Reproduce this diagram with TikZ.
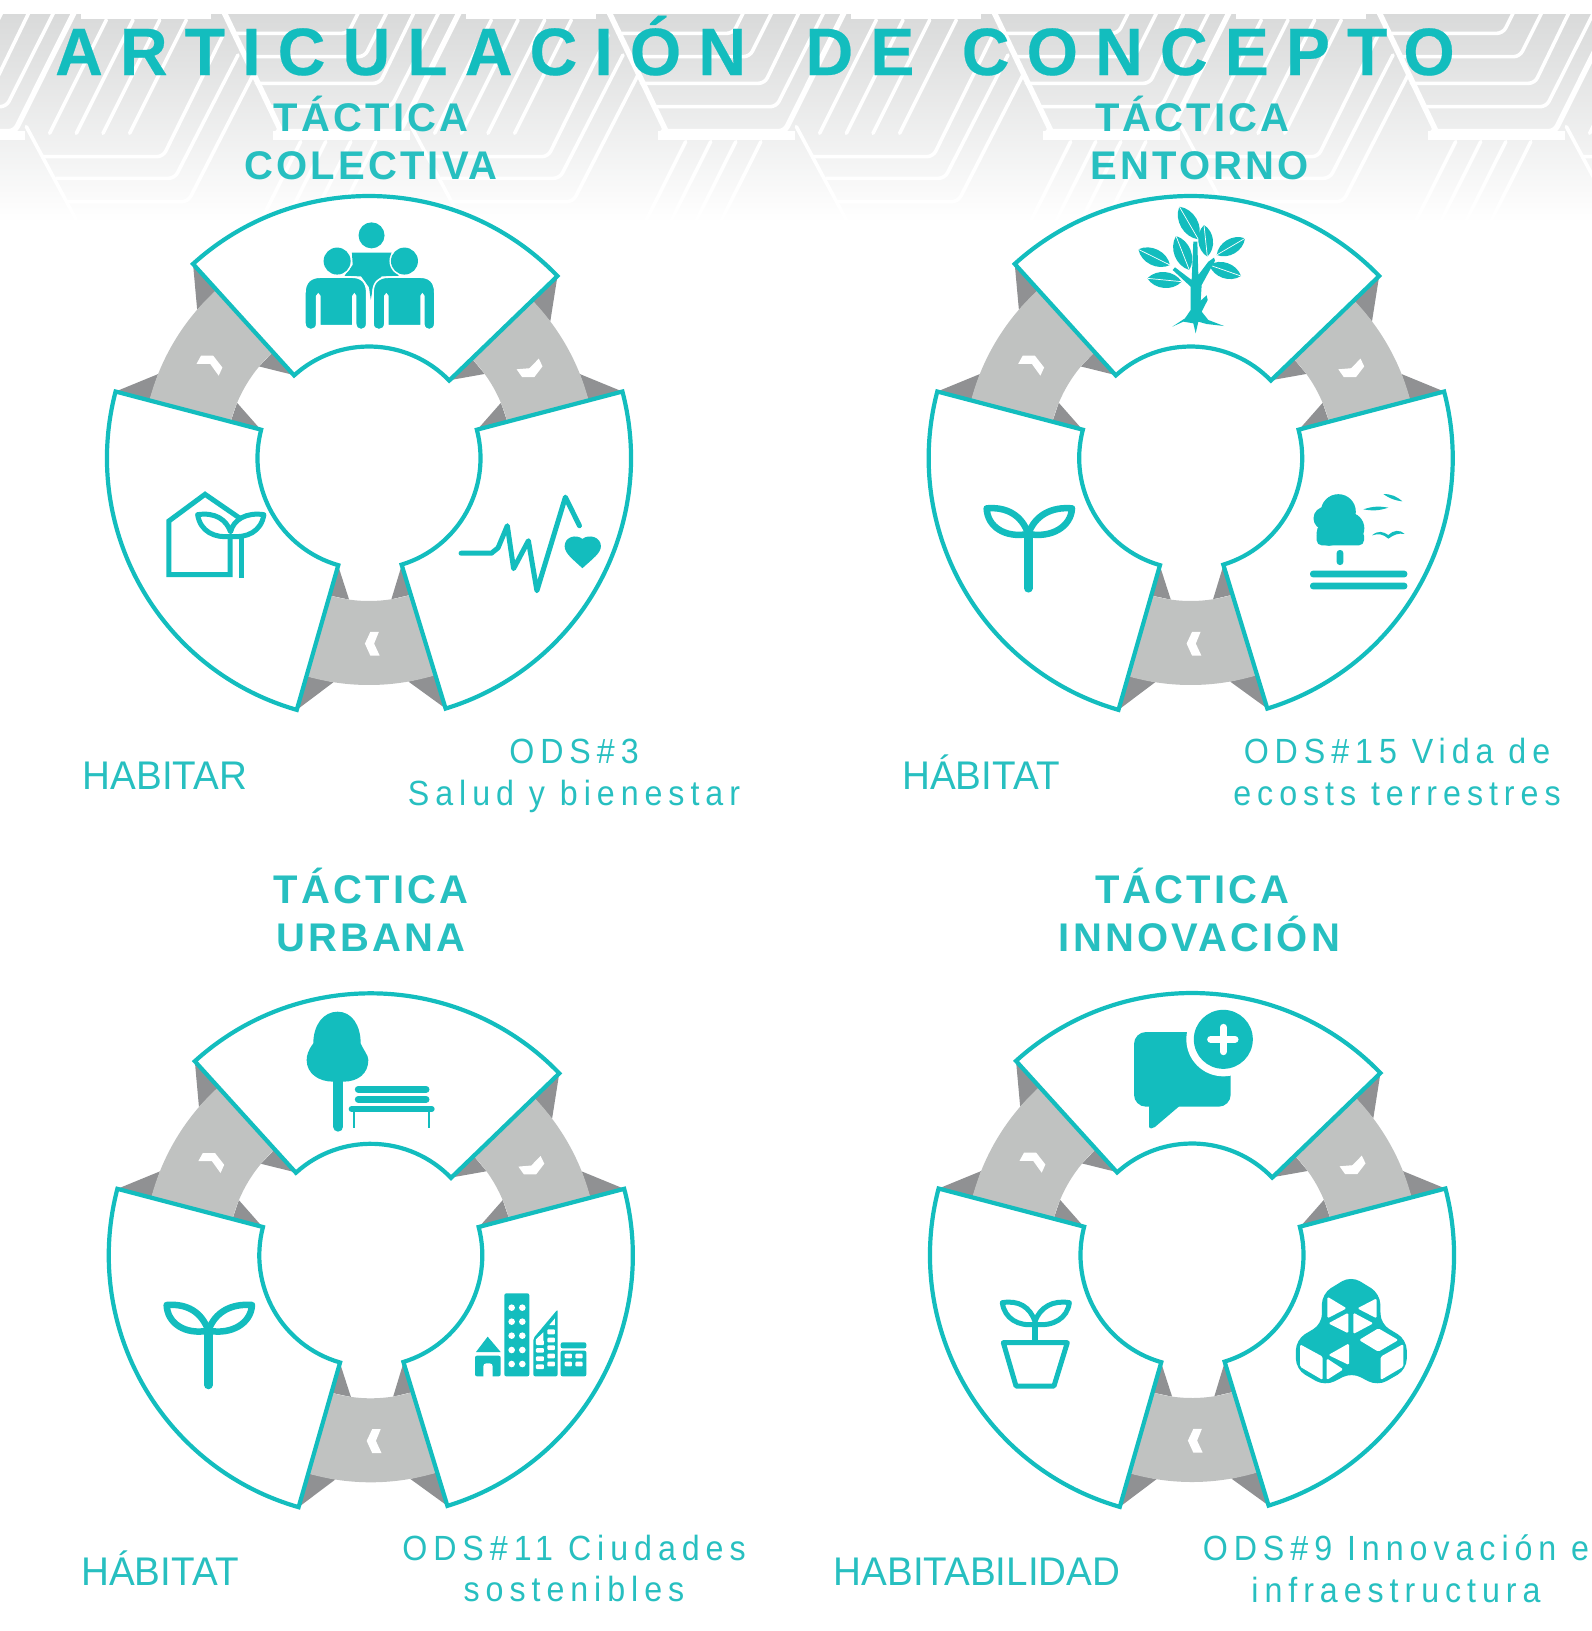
\documentclass[tikz,border=0pt]{standalone}
\usepackage{fontspec}
\setmainfont{Liberation Sans}
\newfontfamily\titleFont[LetterSpace=25.6,FakeStretch=0.985,BoldFeatures={FakeBold=0.35}]{Liberation Sans}
\newfontfamily\tacticaFont[LetterSpace=8]{Liberation Sans}
\newfontfamily\labelFont[FakeStretch=0.965]{Liberation Sans}
\newfontfamily\odsFont[LetterSpace=17,FakeStretch=0.92]{Liberation Sans}
\definecolor{tealMain}{HTML}{13BDBE}
\definecolor{tealLight}{HTML}{27BFC0}
\definecolor{bandLight}{HTML}{C0C2C1}
\definecolor{bandDark}{HTML}{909193}
\definecolor{bannerGray}{HTML}{D9DADA}

\newcommand{\drawSprout}{%
  \draw[iconLine,line width=6.5pt] (110,955) .. controls (170,950) and (215,975) .. (235,1032)
    .. controls (165,1045) and (112,1010) .. (110,955);
  \draw[iconLine,line width=6.5pt] (366,955) .. controls (305,950) and (255,975) .. (235,1032)
    .. controls (305,1045) and (363,1010) .. (366,955);
  \draw[iconLine,line width=8.5pt] (235,1040) -- (235,1195);
}

\begin{document}
\begin{tikzpicture}
[x=1pt,y=-1pt,
  sectorDecorate/.style={draw=tealMain,fill=white,line width=4.2pt},%
  iconFill/.style={fill=tealMain},%
  iconLine/.style={draw=tealMain,line width=5pt,line join=round,line cap=round},%
  bannerLine/.style={draw=white,line width=3.6pt,rounded corners=6pt,line cap=round},%
  bannerThick/.style={bannerLine,line width=5.5pt},%
  titleDecorate/.style={inner sep=0pt,text=tealMain,font=\titleFont\bfseries\fontsize{67}{67}\selectfont},%
  tacticaDecorate/.style={inner sep=0pt,align=center,text=tealLight,font=\tacticaFont\bfseries\fontsize{40}{47.5}\selectfont},%
  labelDecorate/.style={inner sep=0pt,text=tealLight,font=\labelFont\fontsize{40}{40}\selectfont},%
  odsDecorate/.style={inner sep=0pt,align=center,text=tealLight,font=\odsFont\fontsize{35}{41.5}\selectfont},%
  zoomOne/.style={shift={(80,180)},x=0.36996pt,y=-0.35714pt},%
  zoomThree/.style={shift={(950,190)},x=0.33333pt,y=-0.33333pt},%
  zoomFour/.style={shift={(950,990)},x=0.33333pt,y=-0.33333pt},%
  zoomFive/.style={shift={(150,990)},x=0.33333pt,y=-0.33333pt},%
  zoomBanner/.style={x=0.33333pt,y=-0.33333pt}]
\useasboundingbox (0,0) rectangle (1592,1631);

%% banner behind the title
\begin{scope}
\clip (0,14) rectangle (1592,222);
\shade[top color=bannerGray,bottom color=white] (0,14) rectangle (1592,222);
\foreach \k in {-1,...,4} {
  \begin{scope}[shift={(223+385*\k,0)},zoomBanner]
    \fill[white] (-425,0) rectangle (-35,58);
    \fill[white] (150,392) rectangle (560,420);
    \draw[bannerThick] (0,30) -- (182,410);
    \draw[bannerThick] (165,395) -- (530,395) -- (727,0);
    \draw[bannerLine] (30,100) -- (375,100) -- (425,0);
    \draw[bannerLine] (65,170) -- (425,170) -- (510,0);
    \draw[bannerLine] (100,250) -- (470,250) -- (591,0);
    \draw[bannerLine] (135,320) -- (505,320) -- (666,0);
    \draw[bannerLine] (-590,380) -- (-440,660);
    \draw[bannerLine] (-540,470) -- (-180,470) -- (0,105);
    \draw[bannerLine] (-500,535) -- (-145,535) -- (45,165);
    \draw[bannerLine] (-465,605) -- (-105,605) -- (90,225);
    \foreach \s in {0,80,160,240} {
      \draw[bannerLine] (-520+\s,400) -- (-350+\s,60);
      \draw[bannerLine] (233+\s*0.94,425) -- (115+\s*0.94,660);
    }
  \end{scope}
}
\end{scope}

%% wheels
\foreach \cx/\cy in {369/458, 1190.7/458, 370.8/1255.3, 1192/1255} {
  \begin{scope}[shift={(\cx,\cy)}]
    % bands between the sectors
    \foreach \low/\high in {14.7/44, 132.2/165.3, 254/287} {
      \fill[bandDark] (\low:262pt) -- (\low+7:227pt) -- (\low:227pt) -- cycle;
      \fill[bandDark] (\high:262pt) -- (\high-7:227pt) -- (\high:227pt) -- cycle;
      \fill[bandDark] (\low:112pt) -- (\low+8:143pt) -- (\low:143pt) -- cycle;
      \fill[bandDark] (\high:112pt) -- (\high-8:143pt) -- (\high:143pt) -- cycle;
      \fill[bandLight] (\low:143pt) arc[start angle=\low,end angle=\high,radius=143pt]
        -- (\high:227pt) arc[start angle=\high,end angle=\low,radius=227pt] -- cycle;
    }
    % arrows on the bands
    \fill[white] (9.9,173.8) -- (1.4,173.8) -- (-4.1,185.6) -- (1.4,197.7) -- (10.7,197.7) -- (5.1,185.6) -- cycle;
    \fill[white] (-168,-102.3) -- (-155.8,-102.3) -- (-146.6,-90.5) -- (-150.3,-82.3) -- (-158.8,-94.1) -- (-172.5,-94.1) -- cycle;
    \fill[white] (169.8,-99.4) -- (173.5,-91.6) -- (165.3,-80.9) -- (153.1,-80.9) -- (147.6,-88.7) -- (160.5,-89.8) -- cycle;
    % sectors
    \foreach \start/\stop in {44/132.2, -73/14.7, 165.3/254} {
      \draw[sectorDecorate] (\start:262pt) arc[start angle=\start,end angle=\stop,radius=262pt]
        -- (\stop:111.5pt) arc[start angle=\stop,end angle=\start,radius=111.5pt] -- cycle;
    }
  \end{scope}
}

%% people
\begin{scope}[zoomOne]
  \fill[iconFill] (788,155) circle[radius=13pt];
  \fill[iconFill] (735,203) -- (842,203) -- (840,238) -- (862,268) -- (815,270) -- (792,300) -- (786,335)
    -- (781,300) -- (760,270) -- (715,268) -- (737,238) -- cycle;
  \fill[white] (695,227) circle[radius=15pt];
  \fill[white] (877,227) circle[radius=15pt];
  \fill[iconFill] (695,227) circle[radius=13.5pt];
  \fill[iconFill] (877,227) circle[radius=13.5pt];
  \foreach \dx in {0,184} {
    \draw[white,line width=1.6pt,fill=tealMain] (608+\dx,402) -- (608+\dx,315) .. controls (608+\dx,285) and (625+\dx,272) .. (650+\dx,272)
      -- (735+\dx,272) .. controls (760+\dx,272) and (775+\dx,285) .. (775+\dx,315)
      -- (775+\dx,402) .. controls (775+\dx,425) and (745+\dx,425) .. (745+\dx,402)
      -- (745+\dx,325) .. controls (745+\dx,318) and (738+\dx,318) .. (738+\dx,325)
      -- (738+\dx,408) -- (648+\dx,408)
      -- (648+\dx,325) .. controls (648+\dx,318) and (640+\dx,318) .. (640+\dx,325)
      -- (640+\dx,402) .. controls (640+\dx,425) and (608+\dx,425) .. (608+\dx,402) -- cycle;
  }
  %% house with sprout
  \draw[iconLine,line cap=butt,line join=miter] (432,947) -- (338,880) -- (240,955) -- (240,1105) -- (406,1105) -- (406,1003);
  \draw[iconLine,line cap=butt] (437,1003) -- (437,1113);
  \draw[iconLine] (318,937) .. controls (365,930) and (395,950) .. (407,985)
    .. controls (415,950) and (450,930) .. (497,937) .. controls (490,985) and (450,1003) .. (407,998)
    .. controls (365,1003) and (325,985) .. (318,937);
  %% pulse and heart
  \draw[iconLine] (1030,1045) -- (1112,1045) -- (1130,1030) -- (1155,968) -- (1172,1088) -- (1212,1010)
    -- (1235,1150) -- (1312,888) -- (1350,968);
  \fill[iconFill] (1358,1087) .. controls (1330,1060) and (1310,1045) .. (1310,1025)
    .. controls (1310,1000) and (1340,990) .. (1358,1005) .. controls (1376,990) and (1408,1000) .. (1408,1025)
    .. controls (1408,1045) and (1386,1060) .. (1358,1087);
\end{scope}

%% tree with leaves, sprout, park
\begin{scope}[zoomThree]
  \foreach \ax/\ay/\bx/\by in {688/50/745/148, 678/138/718/240, 762/105/772/200, 800/195/885/145,
    565/178/660/225, 778/225/873/258, 592/265/695/275} {
    \fill[iconFill] (\ax,\ay) to[bend left=52] (\bx,\by) to[bend left=52] (\ax,\ay);
    \draw[white,line width=0.7pt] (\ax,\ay) -- (\bx,\by);
  }
  \fill[iconFill] (730,155) -- (742,155) -- (745,255) -- (775,215) -- (792,203) -- (795,212) -- (755,285)
    -- (752,332) -- (770,316) -- (773,330) -- (755,365) -- (775,390) -- (822,408) -- (770,402) -- (745,395)
    -- (737,430) -- (730,400) -- (700,395) -- (667,410) -- (705,385) -- (722,360) -- (722,290) -- (668,240)
    -- (675,232) -- (725,270) -- cycle;
  \drawSprout
  \fill[iconFill] (1165,965) circle[radius=17.5pt];
  \fill[iconFill] (1125,985) circle[radius=11.5pt];
  \fill[iconFill] (1195,1015) circle[radius=16pt];
  \fill[iconFill] (1137,1030) circle[radius=12.5pt];
  \fill[iconFill,rounded corners=5pt] (1100,1022) rectangle (1242,1066);
  \fill[iconFill,rounded corners=3pt] (1160,1080) rectangle (1180,1125);
  \fill[iconFill,rounded corners=3pt] (1080,1142) rectangle (1372,1162);
  \fill[iconFill,rounded corners=3pt] (1080,1178) rectangle (1372,1198);
  \fill[iconFill] (1240,958) to[bend left=14] (1315,953) to[bend left=14] (1240,958);
  \fill[iconFill] (1300,912) to[bend left=20] (1357,934) to[bend left=14] (1300,912);
  \fill[iconFill] (1266,1036) .. controls (1285,1020) and (1300,1025) .. (1315,1035)
    .. controls (1330,1020) and (1350,1018) .. (1364,1032) .. controls (1345,1028) and (1330,1035) .. (1315,1046)
    .. controls (1300,1032) and (1285,1030) .. (1266,1036);
\end{scope}

%% bubble, pot, cubes
\begin{scope}[zoomFour]
  \fill[iconFill,rounded corners=12pt] (552,126) -- (842,126) -- (842,350) -- (552,350) -- cycle;
  \fill[iconFill,rounded corners=2pt] (597,345) -- (597,415) -- (610,415) -- (692,345) -- cycle;
  \fill[white] (820,148) circle[radius=37pt];
  \fill[iconFill] (820,148) circle[radius=29.5pt];
  \draw[white,line width=7pt,line cap=round] (782,148) -- (855,148);
  \draw[white,line width=7pt,line cap=round] (820,112) -- (820,185);
  \draw[iconLine] (157,938) .. controls (205,930) and (240,950) .. (255,995)
    .. controls (270,950) and (310,930) .. (358,938) .. controls (352,985) and (310,1010) .. (255,1003)
    .. controls (205,1010) and (163,985) .. (157,938);
  \draw[iconLine,line width=6pt,line cap=butt] (255,1000) -- (255,1055);
  \draw[iconLine] (160,1058) -- (352,1058) -- (312,1188) -- (198,1188) -- cycle;
  \fill[iconFill,draw=tealMain,line width=1.5pt,rounded corners=10pt] (1203,860) -- (1288,912) -- (1290,1003) -- (1368,1050)
    -- (1368,1137) -- (1283,1186) -- (1205,1145) -- (1125,1186) -- (1040,1137) -- (1040,1050) -- (1118,1003)
    -- (1118,912) -- cycle;
  \foreach \p in {{(1132,920) -- (1190,955) -- (1132,985)}, {(1280,925) -- (1222,955) -- (1280,985)},
    {(1135,1000) -- (1195,968) -- (1195,1030)}, {(1210,968) -- (1270,1000) -- (1210,1032)},
    {(1227,1050) -- (1285,1015) -- (1345,1050) -- (1285,1085)}, {(1292,1100) -- (1360,1062) -- (1360,1130) -- (1292,1170)},
    {(1050,1063) -- (1118,1100) -- (1118,1170) -- (1050,1130)}, {(1135,1095) -- (1197,1060) -- (1197,1125)},
    {(1130,1105) -- (1180,1138) -- (1130,1170)}} {
    \fill[white,rounded corners=1.5pt] \p -- cycle;
  }
\end{scope}

%% street tree and bench, sprout, city
\begin{scope}[zoomFive]
  \fill[iconFill] (563,65) .. controls (520,65) and (490,105) .. (490,160) .. controls (475,180) and (470,195) .. (470,210)
    .. controls (470,250) and (505,275) .. (550,275) -- (580,275) .. controls (625,275) and (655,250) .. (655,210)
    .. controls (655,195) and (640,180) .. (632,160) .. controls (632,105) and (605,65) .. (563,65);
  \draw[iconLine,line width=10pt] (565,270) -- (565,410);
  \draw[iconLine,line width=7pt] (625,298) -- (828,298);
  \draw[iconLine,line width=7pt] (625,328) -- (828,328);
  \draw[iconLine,line width=6pt] (605,357) -- (845,357);
  \draw[iconLine,line width=1.8pt,line cap=butt] (613,362) -- (613,414);
  \draw[iconLine,line width=1.8pt,line cap=butt] (836,362) -- (836,414);
  \begin{scope}[shift={(-60,-10)}]
    \drawSprout
  \end{scope}
  \fill[iconFill] (978,1086) -- (1013,1040) -- (1052,1086) -- cycle;
  \fill[iconFill,rounded corners=2pt] (975,1097) rectangle (1052,1159);
  \fill[white,rounded corners=3pt] (1000,1120) rectangle (1028,1170);
  \fill[iconFill,rounded corners=2pt] (1063,910) rectangle (1138,1159);
  \foreach \wy in {953,995,1037,1080,1122} {
    \fill[white] (1085,\wy) circle[radius=3.3pt];
    \fill[white] (1117,\wy) circle[radius=3.3pt];
  }
  \fill[iconFill,rounded corners=2pt] (1150,1045) -- (1223,958) -- (1223,1159) -- (1150,1159) -- cycle;
  \fill[white] (1198,1005) -- (1215,985) -- (1215,1005) -- cycle;
  \fill[white,rounded corners=1pt] (1192,1018) rectangle (1215,1033);
  \fill[white] (1158,1048) -- (1180,1027) -- (1180,1057) -- (1158,1057) -- cycle;
  \foreach \wy in {1050,1073,1098,1122} {
    \fill[white,rounded corners=1pt] (1192,\wy-7) rectangle (1215,\wy+7);
    \fill[white,rounded corners=1pt] (1158,\wy+1) rectangle (1182,\wy+15);
  }
  \fill[iconFill,rounded corners=2pt] (1232,1057) rectangle (1309,1075);
  \fill[iconFill,rounded corners=2pt] (1232,1082) rectangle (1309,1159);
  \foreach \wx in {1255,1287} {
    \fill[white,rounded corners=1pt] (\wx-11,1091) rectangle (\wx+11,1105);
    \fill[white,rounded corners=1pt] (\wx-11,1115) rectangle (\wx+11,1129);
  }
\end{scope}

%% texts
\node (titleText) at (55,75) [titleDecorate,anchor=base west] {ARTICULACIÓN\hspace{24pt} DE\hspace{12pt} CONCEPTO};
\foreach \nodename/\x/\y/\txt in {colectiva/371/138/TÁCTICA\\COLECTIVA,
  entorno/1196/138/TÁCTICA\hspace*{7pt}\\\hspace*{7pt}ENTORNO,
  urbana/371/910/TÁCTICA\\URBANA,
  innovacion/1196/910/TÁCTICA\hspace*{7pt}\\\hspace*{7pt}INNOVACIÓN} {
  \node (\nodename) at (\x,\y) [tacticaDecorate] {\txt};
}
\foreach \nodename/\x/\y/\txt in {habitar/165/789/HABITAR, habitatOne/981/789/HÁBITAT,
  habitatTwo/160/1585/HÁBITAT, habitabilidad/977/1585/HABITABILIDAD} {
  \node (\nodename) at (\x,\y) [labelDecorate,anchor=base] {\txt};
}
\foreach \nodename/\x/\y/\txt in {salud/574/776/ODS\#3\\Salud y bienestar,
  terrestres/1397/772/ODS\#15 Vida de\\ecosts terrestres,
  ciudades/574/1568.5/ODS\#11 Ciudades\\sostenibles,
  industria/1396/1569/ODS\#9 Innovación e\\infraestructura} {
  \node (\nodename) at (\x,\y) [odsDecorate] {\txt};
}
\end{tikzpicture}
\end{document}
